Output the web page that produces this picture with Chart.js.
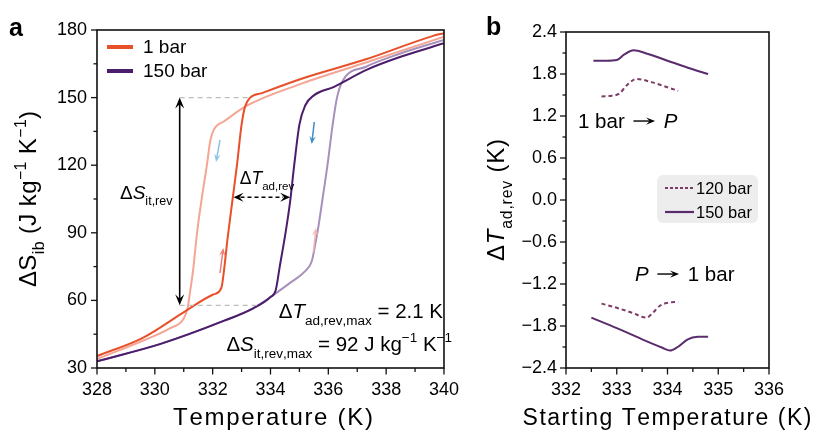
<!DOCTYPE html>
<html>
<head>
<meta charset="utf-8">
<script src="https://cdn.jsdelivr.net/npm/chart.js@4.4.1/dist/chart.umd.min.js"></script>
<style>
  html, body { margin: 0; padding: 0; background: #fff; width: 816px; height: 431px; overflow: hidden; }
  #chartA { position: absolute; left: 0; top: 0; }
  #chartB { position: absolute; left: 470px; top: 0; }
</style>
</head>
<body>
<canvas id="chartA" width="470" height="431"></canvas>
<canvas id="chartB" width="346" height="431"></canvas>
<script>
// Panneau a : entropie isobare, chauffe / refroidissement à 1 bar et 150 bar
const FONT = '"Liberation Sans", Arial, sans-serif';

// 1 bar, chauffe (trait vif)
const tChauffe1 = [328, 329.6, 331.1, 332.0, 332.3, 332.38, 332.52, 332.68, 332.84, 333.0, 333.12, 333.3, 333.7, 335.1, 337.3, 339.6, 340];
const sChauffe1 = [35.3, 43.5, 55.6, 62.5, 65.5, 72, 88, 104, 120, 138, 146, 150, 152, 158.5, 167, 177.3, 178.6];
// 1 bar, refroidissement (trait pâle)
const tRefroid1 = [328, 329.6, 330.5, 331.0, 331.14, 331.22, 331.32, 331.46, 331.62, 331.8, 331.92, 332.05, 332.4, 333.2, 335.1, 337.3, 340];
const sRefroid1 = [34, 42.2, 47.5, 52, 57, 64, 73, 90, 105, 120, 131, 136, 139.5, 146.5, 156.3, 165.6, 177];
// 150 bar, chauffe
const tChauffe150 = [328, 330.2, 332.4, 333.4, 334.0, 334.18, 334.32, 334.52, 334.68, 334.82, 335.0, 335.2, 335.5, 336.2, 337.3, 338.5, 340];
const sChauffe150 = [33, 40.7, 51, 56.5, 61.5, 64.5, 75, 90, 104, 120, 138, 146.5, 151, 154.8, 162.2, 168.1, 174.1];
// 150 bar, refroidissement
const tRefroid150 = [328, 330.2, 332.4, 333.4, 334.0, 334.7, 335.2, 335.43, 335.55, 335.66, 335.8, 335.97, 336.15, 336.3, 336.5, 337.3, 338.5, 340];
const sRefroid150 = [33, 40.7, 51, 56.5, 61.5, 68, 73, 77.5, 85, 93, 105, 120, 138, 150, 157.5, 163.7, 169.6, 175.6];

const ticksAx = [328, 330, 332, 334, 336, 338, 340];
const ticksAy = [30, 60, 90, 120, 150, 180];

// Panneau b : ΔT adiabatique réversible vs température de départ
const tB150haut = [332.54, 332.8, 333.0, 333.15, 333.33, 333.6, 334.0, 334.4, 334.8];
const vB150haut = [1.99, 1.99, 2.0, 2.08, 2.14, 2.09, 1.99, 1.89, 1.80];
const tB120haut = [332.70, 332.9, 333.05, 333.2, 333.39, 333.7, 334.0, 334.21];
const vB120haut = [1.48, 1.49, 1.52, 1.64, 1.73, 1.68, 1.61, 1.56];
const tB150bas = [332.5, 333.0, 333.5, 333.9, 334.05, 334.2, 334.4, 334.6, 334.8];
const vB150bas = [-1.68, -1.83, -1.99, -2.11, -2.15, -2.1, -1.99, -1.955, -1.952];
const tB120bas = [332.70, 333.0, 333.3, 333.59, 333.7, 333.85, 334.0, 334.21];
const vB120bas = [-1.48, -1.54, -1.61, -1.68, -1.62, -1.51, -1.47, -1.455];

const ticksBx = [332, 333, 334, 335, 336];
const ticksBy = [-2.4, -1.8, -1.2, -0.6, 0, 0.6, 1.2, 1.8, 2.4];

// valeurs repères des annotations (ΔS_it,rev et ΔT_ad,rev)
const sHautRev = 150, sBasRev = 57.8, tFlecheS = 330.86;
const sFlecheT = 105.8, tFlecheT = [332.72, 334.68];

const ROUGE = '#E8502A', ROUGE_PALE = '#F4A593';
const VIOLET = '#4B1D6B', VIOLET_PALE = '#A791BC';
const VIOLET_B = '#5A2C6E', PRUNE_B = '#7E3B66';

function pts(xs, ys) { return xs.map((x, i) => ({ x, y: ys[i] })); }

// texte avec indices / exposants / italique ; 'fl' = flèche longue dessinée
function drawRich(ctx, parts, x, y, size, align, esp) {
  esp = esp || 0;
  const items = parts.map(([txt, k]) => {
    const s = (k === 'sub' || k === 'sup') ? size * 0.66 : size;
    const f = (k === 'i' ? 'italic ' : '') + s + 'px ' + FONT;
    ctx.font = f;
    let w;
    if (k === 'fl') w = size * 1.35;
    else w = [...txt].reduce((a, ch) => a + ctx.measureText(ch).width + esp, 0);
    return { txt, k, f, w, dy: k === 'sub' ? size * 0.32 : k === 'sup' ? -size * 0.42 : 0 };
  });
  const total = items.reduce((a, b) => a + b.w, 0) - esp;
  let cx = align === 'center' ? x - total / 2 : align === 'right' ? x - total : x;
  ctx.textAlign = 'left';
  ctx.textBaseline = 'alphabetic';
  items.forEach(it => {
    if (it.k === 'fl') {
      const ya = y - size * 0.34;
      ctx.save();
      ctx.strokeStyle = ctx.fillStyle; ctx.lineWidth = 1.4;
      ligne(ctx, cx + 3, ya, cx + it.w - 8, ya);
      pointe(ctx, cx, ya, cx + it.w - 3, ya, 9, 3.6);
      ctx.restore();
    } else {
      ctx.font = it.f;
      let px = cx;
      [...it.txt].forEach(ch => { ctx.fillText(ch, px, y + it.dy); px += ctx.measureText(ch).width + esp; });
    }
    cx += it.w;
  });
}

function ligne(ctx, x1, y1, x2, y2) {
  ctx.beginPath(); ctx.moveTo(x1, y1); ctx.lineTo(x2, y2); ctx.stroke();
}

function pointe(ctx, x1, y1, x2, y2, taille, larg) {
  const ang = Math.atan2(y2 - y1, x2 - x1);
  ctx.beginPath();
  ctx.moveTo(x2, y2);
  ctx.lineTo(x2 - taille * Math.cos(ang) + larg * Math.sin(ang), y2 - taille * Math.sin(ang) - larg * Math.cos(ang));
  ctx.lineTo(x2 - taille * 0.6 * Math.cos(ang), y2 - taille * 0.6 * Math.sin(ang));
  ctx.lineTo(x2 - taille * Math.cos(ang) - larg * Math.sin(ang), y2 - taille * Math.sin(ang) + larg * Math.cos(ang));
  ctx.closePath();
  ctx.fill();
}

// cadre + graduations majeures / mineures (mineures au milieu)
function cadre(chart) {
  const { ctx, chartArea: a, scales: { x, y } } = chart;
  ctx.save();
  ctx.strokeStyle = '#111';
  ctx.lineWidth = 1.6;
  ctx.strokeRect(a.left, a.top, a.right - a.left, a.bottom - a.top);
  ctx.lineWidth = 1.3;
  const xs = x.ticks.map(t => t.value), ys = y.ticks.map(t => t.value);
  xs.forEach((v, i) => {
    const p = x.getPixelForValue(v);
    ligne(ctx, p, a.bottom, p, a.bottom + 6.5);
    if (i < xs.length - 1) {
      const m = x.getPixelForValue((v + xs[i + 1]) / 2);
      ligne(ctx, m, a.bottom, m, a.bottom + 4);
    }
  });
  ys.forEach((v, i) => {
    const p = y.getPixelForValue(v);
    ligne(ctx, a.left, p, a.left - 6, p);
    if (i < ys.length - 1) {
      const m = y.getPixelForValue((v + ys[i + 1]) / 2);
      ligne(ctx, a.left, m, a.left - 3.5, m);
    }
  });
  ctx.restore();
}

const annotA = {
  id: 'annotA',
  afterDraw(chart) {
    const { ctx, scales: { x, y } } = chart;
    cadre(chart);
    ctx.save();
    // pointillés gris
    ctx.strokeStyle = '#BDBDBD';
    ctx.lineWidth = 1.2;
    ctx.setLineDash([5, 4]);
    ligne(ctx, x.getPixelForValue(tFlecheS), y.getPixelForValue(sHautRev), x.getPixelForValue(333.28), y.getPixelForValue(sHautRev));
    ligne(ctx, x.getPixelForValue(tFlecheS), y.getPixelForValue(sBasRev), x.getPixelForValue(333.6), y.getPixelForValue(sBasRev));
    ctx.setLineDash([]);

    // flèche verticale ΔS_it,rev
    ctx.strokeStyle = '#000'; ctx.fillStyle = '#000'; ctx.lineWidth = 1.6;
    const xa = x.getPixelForValue(tFlecheS), ya1 = y.getPixelForValue(sHautRev), ya2 = y.getPixelForValue(sBasRev);
    ligne(ctx, xa, ya1 + 6, xa, ya2 - 6);
    pointe(ctx, xa, ya2, xa, ya1, 11, 4.5);
    pointe(ctx, xa, ya1, xa, ya2, 11, 4.5);

    // flèche horizontale pointillée ΔT_ad,rev
    const yb = y.getPixelForValue(sFlecheT), xb1 = x.getPixelForValue(tFlecheT[0]), xb2 = x.getPixelForValue(tFlecheT[1]);
    ctx.setLineDash([4, 3]);
    ligne(ctx, xb1 + 7, yb, xb2 - 7, yb);
    ctx.setLineDash([]);
    pointe(ctx, xb2, yb, xb1, yb, 10, 4.5);
    pointe(ctx, xb1, yb, xb2, yb, 10, 4.5);

    // petites flèches de sens
    ctx.lineWidth = 1.5;
    const petites = [
      ['#8FC1E3', 220, 140, 216, 162],
      ['#3F8DC6', 314.3, 122, 311.7, 144],
      ['#F07A78', 220, 273, 223.3, 248],
      ['#F6B7B4', 313.3, 252, 316, 228]
    ];
    petites.forEach(([c, x1, y1, x2, y2]) => {
      ctx.strokeStyle = c; ctx.fillStyle = c;
      ligne(ctx, x1, y1, x2 - (x2 - x1) * 0.2, y2 - (y2 - y1) * 0.2);
      pointe(ctx, x1, y1, x2, y2, 8, 3.2);
    });

    // textes
    ctx.fillStyle = '#000';
    drawRich(ctx, [['Δ', ''], ['S', 'i'], ['it,rev', 'sub']], 120, 199, 19, 'left');
    drawRich(ctx, [['Δ', ''], ['T', 'i'], ['ad,rev', 'sub']], 267, 184, 17.5, 'center');
    drawRich(ctx, [['Δ', ''], ['T', 'i'], ['ad,rev,max', 'sub'], [' = 2.1 K', '']], 443, 318, 20.5, 'right');
    drawRich(ctx, [['Δ', ''], ['S', 'i'], ['it,rev,max', 'sub'], [' = 92 J kg', ''], ['−1', 'sup'], [' K', ''], ['−1', 'sup']], 452, 351, 20.5, 'right');

    // légende
    ctx.lineWidth = 4;
    [[ROUGE, '1 bar', 47], [VIOLET, '150 bar', 71]].forEach(([c, lab, yy]) => {
      ctx.strokeStyle = c;
      ligne(ctx, 107, yy, 133, yy);
      ctx.font = '19px ' + FONT; ctx.textBaseline = 'middle'; ctx.textAlign = 'left';
      ctx.fillText(lab, 143, yy + 1);
    });

    // titres d'axes
    drawRich(ctx, [['Temperature (K)', '']], 273, 425, 24, 'center', 1.7);
    ctx.translate(36, 199);
    ctx.rotate(-Math.PI / 2);
    drawRich(ctx, [['ΔS', ''], ['ib', 'sub'], [' (J kg', ''], ['−1', 'sup'], [' K', ''], ['−1', 'sup'], [')', '']], 0, 0, 24, 'center', 0.4);
    ctx.restore();

    ctx.save();
    ctx.font = 'bold 25px ' + FONT; ctx.fillStyle = '#000'; ctx.textBaseline = 'alphabetic';
    ctx.fillText('a', 9, 36);
    ctx.restore();
  }
};

const annotB = {
  id: 'annotB',
  afterDraw(chart) {
    const { ctx } = chart;
    cadre(chart);
    ctx.save();
    ctx.fillStyle = '#000';
    drawRich(ctx, [['1 bar ', ''], ['', 'fl'], [' ', ''], ['P', 'i']], 108, 128, 20.5, 'left');
    drawRich(ctx, [['P', 'i'], [' ', ''], ['', 'fl'], [' 1 bar', '']], 165, 281, 20.5, 'left');

    // légende sur fond gris
    ctx.fillStyle = '#EDEDED';
    ctx.beginPath();
    ctx.roundRect(187, 175, 101, 48, 6);
    ctx.fill();
    ctx.lineWidth = 2.2;
    [[PRUNE_B, [3, 2], '120 bar', 188], [VIOLET_B, [], '150 bar', 212]].forEach(([c, d, lab, yy]) => {
      ctx.strokeStyle = c; ctx.setLineDash(d);
      ligne(ctx, 195, yy, 224, yy);
      ctx.setLineDash([]);
      ctx.fillStyle = '#000';
      ctx.font = '16.5px ' + FONT; ctx.textBaseline = 'middle'; ctx.textAlign = 'left';
      ctx.fillText(lab, 226, yy + 1);
    });

    ctx.fillStyle = '#000';
    drawRich(ctx, [['Starting Temperature (K)', '']], 197, 425, 23, 'center', 1.5);
    ctx.translate(34, 200);
    ctx.rotate(-Math.PI / 2);
    drawRich(ctx, [['Δ', ''], ['T', 'i'], ['ad,rev', 'sub'], [' (K)', '']], 0, 0, 24, 'center', 0.8);
    ctx.restore();

    ctx.save();
    ctx.font = 'bold 25px ' + FONT; ctx.fillStyle = '#000';
    ctx.fillText('b', 16, 35);
    ctx.restore();
  }
};

function serie(data, color, order, dash) {
  return {
    data, borderColor: color, backgroundColor: color, borderWidth: 2, order,
    pointRadius: 0, cubicInterpolationMode: 'monotone', fill: false,
    borderDash: dash || []
  };
}

const policeGrad = { family: FONT, size: 18 };

new Chart(document.getElementById('chartA'), {
  type: 'line',
  data: {
    datasets: [
      serie(pts(tChauffe1, sChauffe1), ROUGE, 0),
      serie(pts(tChauffe150, sChauffe150), VIOLET, 1),
      serie(pts(tRefroid1, sRefroid1), ROUGE_PALE, 2),
      serie(pts(tRefroid150, sRefroid150), VIOLET_PALE, 3)
    ]
  },
  options: {
    responsive: false,
    animation: false,
    layout: { padding: { top: 30, right: 18, left: 0, bottom: 0 } },
    plugins: { legend: { display: false }, tooltip: { enabled: false } },
    scales: {
      x: {
        type: 'linear', min: 328, max: 340,
        afterBuildTicks: s => { s.ticks = ticksAx.map(v => ({ value: v })); },
        afterFit: s => { s.height = 63; },
        grid: { display: false, drawTicks: false },
        border: { display: false },
        ticks: { color: '#000', font: policeGrad, padding: 11, maxRotation: 0 }
      },
      y: {
        min: 30, max: 180,
        afterBuildTicks: s => { s.ticks = ticksAy.map(v => ({ value: v })); },
        afterFit: s => { s.width = 97; },
        grid: { display: false, drawTicks: false },
        border: { display: false },
        ticks: { color: '#000', font: policeGrad, padding: 10 }
      }
    }
  },
  plugins: [annotA]
});

new Chart(document.getElementById('chartB'), {
  type: 'line',
  data: {
    datasets: [
      serie(pts(tB150haut, vB150haut), VIOLET_B, 0),
      serie(pts(tB120haut, vB120haut), PRUNE_B, 1, [4, 3]),
      serie(pts(tB150bas, vB150bas), VIOLET_B, 2),
      serie(pts(tB120bas, vB120bas), PRUNE_B, 3, [4, 3])
    ]
  },
  options: {
    responsive: false,
    animation: false,
    layout: { padding: { top: 32, right: 47, left: 0, bottom: 0 } },
    plugins: { legend: { display: false }, tooltip: { enabled: false } },
    scales: {
      x: {
        type: 'linear', min: 332, max: 336,
        afterBuildTicks: s => { s.ticks = ticksBx.map(v => ({ value: v })); },
        afterFit: s => { s.height = 63; },
        grid: { display: false, drawTicks: false },
        border: { display: false },
        ticks: { color: '#000', font: policeGrad, padding: 11, maxRotation: 0 }
      },
      y: {
        min: -2.4, max: 2.4,
        afterBuildTicks: s => { s.ticks = ticksBy.map(v => ({ value: v })); },
        afterFit: s => { s.width = 96; },
        grid: { display: false, drawTicks: false },
        border: { display: false },
        ticks: {
          color: '#000', font: policeGrad, padding: 9,
          callback: v => (v < 0 ? '−' : '') + Math.abs(v).toFixed(1)
        }
      }
    }
  },
  plugins: [annotB]
});
</script>
</body>
</html>
